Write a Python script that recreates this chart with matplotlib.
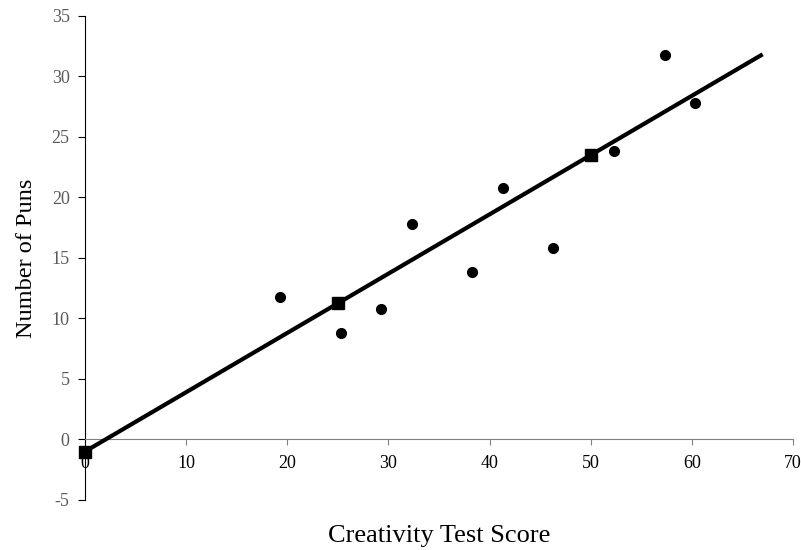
import matplotlib.pyplot as plt

plt.rcParams['font.family'] = ['Liberation Serif', 'DejaVu Serif']
plt.rcParams['axes.unicode_minus'] = False

# observed scores and puns
score = [19.3, 25.3, 29.3, 32.3, 38.3, 41.3, 46.3, 52.3, 57.3, 60.3]
puns = [11.8, 8.8, 10.8, 17.8, 13.8, 20.8, 15.8, 23.8, 31.8, 27.8]

# predicted points on the regression line
pred_x = [0, 25, 50]
pred_y = [-1.0, 11.25, 23.5]

# regression line ends
line_x = [0, 67]
line_y = [-1.0, 31.83]

fig = plt.figure(figsize=(8.01, 5.5), dpi=100)
ax = fig.add_axes([0.106, 0.091, 0.884, 0.880])

ax.plot(line_x, line_y, color='black', lw=3, zorder=3, solid_capstyle='butt')
ax.plot(score, puns, 'o', color='black', ms=7, zorder=4, clip_on=False)
ax.plot(pred_x, pred_y, 's', color='black', ms=9, zorder=5, clip_on=False)

ax.set_xlim(0, 70)
ax.set_ylim(-5, 35)
ax.set_xticks(range(0, 71, 10))
ax.set_yticks(range(-5, 36, 5))

ax.spines['top'].set_visible(False)
ax.spines['right'].set_visible(False)
ax.spines['bottom'].set_position(('data', 0))
ax.spines['bottom'].set_color('#808080')
ax.spines['left'].set_color('black')

ax.tick_params(axis='x', direction='out', length=4, color='#808080',
               labelsize=13, labelcolor='black', pad=7)
ax.tick_params(axis='y', direction='out', length=5, color='black',
               labelsize=13, labelcolor='#595959', pad=6)

ax.set_xlabel('Creativity Test Score', fontsize=19, labelpad=0)
ax.xaxis.set_label_coords(0.5, -0.052)
ax.set_ylabel('Number of Puns', fontsize=17.5)
ax.yaxis.set_label_coords(-0.068, 0.5)

fig.savefig('out.png', dpi=100)
